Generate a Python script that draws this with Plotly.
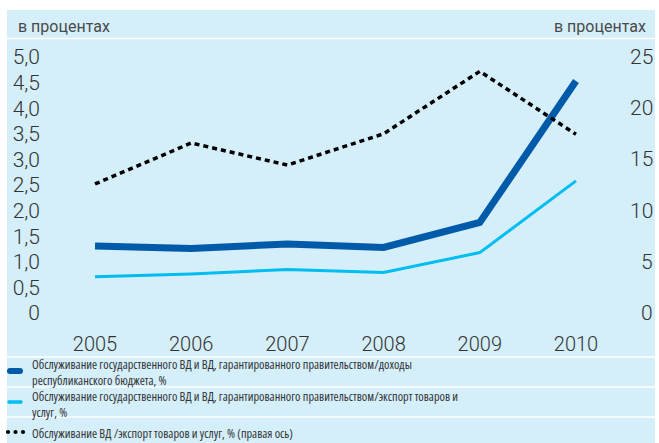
import plotly.graph_objects as go

# Data
years = [2005, 2006, 2007, 2008, 2009, 2010]
service_to_budget = [1.31, 1.26, 1.35, 1.28, 1.77, 4.53]      # left axis, %
service_to_exports = [0.71, 0.76, 0.85, 0.79, 1.18, 2.58]     # left axis, %
ext_debt_to_exports = [12.6, 16.6, 14.45, 17.5, 23.6, 17.45]  # right axis, %

left_ticks = [0, 0.5, 1.0, 1.5, 2.0, 2.5, 3.0, 3.5, 4.0, 4.5, 5.0]
left_labels = ["0", "0,5", "1,0", "1,5", "2,0", "2,5", "3,0", "3,5", "4,0", "4,5", "5,0"]
right_ticks = [0, 5, 10, 15, 20, 25]
right_labels = ["0", "5", "10", "15", "20", "25"]

unit_label = "в процентах"
legend_items = [
    ("Обслуживание государственного ВД и ВД, гарантированного правительством/доходы",
     "республиканского бюджета, %"),
    ("Обслуживание государственного ВД и ВД, гарантированного правительством/экспорт товаров и",
     "услуг, %"),
    ("Обслуживание ВД /экспорт товаров и услуг, % (правая ось)",),
]

DARK_BLUE = "#005aaa"
LIGHT_BLUE = "#00bdf2"
BG = "#d4eefa"
TEXT = "#333333"

W, H = 659, 443
ML, MR, MT, MB = 45, 33, 44, 117
PW, PH = W - ML - MR, H - MT - MB


def px(x):
    return (x - ML) / PW


def py(y):
    return (H - MB - y) / PH


def dot(cx, cy, r, color):
    return dict(type="circle", xref="paper", yref="paper",
                x0=px(cx - r), x1=px(cx + r), y0=py(cy + r), y1=py(cy - r),
                fillcolor=color, line=dict(width=0))


fig = go.Figure()
fig.add_trace(go.Scatter(x=years, y=service_to_budget, mode="lines",
                         line=dict(color=DARK_BLUE, width=7), showlegend=False))
fig.add_trace(go.Scatter(x=years, y=service_to_exports, mode="lines",
                         line=dict(color=LIGHT_BLUE, width=3), showlegend=False))
fig.add_trace(go.Scatter(x=years, y=ext_debt_to_exports, mode="lines", yaxis="y2",
                         line=dict(color="black", width=3.5, dash="5px,4px"),
                         showlegend=False))

shapes = [
    # panel background
    dict(type="rect", xref="paper", yref="paper", x0=px(7), x1=px(655), y0=py(10), y1=py(443),
         fillcolor=BG, line=dict(width=0), layer="below"),
]
# white separator lines
for sy in [38.5, 357, 387, 417]:
    shapes.append(dict(type="line", xref="paper", yref="paper", x0=px(7), x1=px(655),
                       y0=py(sy), y1=py(sy), line=dict(color="white", width=1.5), layer="below"))

# legend keys (rounded ends made from small discs)
shapes.append(dict(type="line", xref="paper", yref="paper", x0=px(10), x1=px(20),
                   y0=py(371), y1=py(371), line=dict(color=DARK_BLUE, width=6)))
shapes += [dot(10, 371, 3, DARK_BLUE), dot(20, 371, 3, DARK_BLUE)]
shapes.append(dict(type="line", xref="paper", yref="paper", x0=px(9), x1=px(21),
                   y0=py(402), y1=py(402), line=dict(color=LIGHT_BLUE, width=3.5)))
shapes += [dot(9, 402, 1.75, LIGHT_BLUE), dot(21, 402, 1.75, LIGHT_BLUE)]
for dx in [8, 15.5, 23]:
    shapes.append(dot(dx, 432, 2.1, "black"))

annotations = [
    dict(text=unit_label, xref="paper", yref="paper", x=px(16), y=py(26), xanchor="left",
         yanchor="middle", showarrow=False, font=dict(family="Roboto", size=16, color="#4a4a4a")),
    dict(text=unit_label, xref="paper", yref="paper", x=px(648), y=py(26), xanchor="right",
         yanchor="middle", showarrow=False, font=dict(family="Roboto", size=16, color="#4a4a4a")),
]
# right-axis labels, right-aligned
for v, t in zip(right_ticks, right_labels):
    annotations.append(dict(text=t, xref="paper", yref="y2", x=px(655), y=v, xanchor="right",
                            yanchor="middle", showarrow=False,
                            font=dict(family="Roboto", size=21, color=TEXT, weight=300)))

# legend text in a condensed cut
legend_centres = [372, 404.5, 433]
for lines, cy in zip(legend_items, legend_centres):
    text = "<br>".join(f'<span style="font-stretch:80%">{ln}</span>' for ln in lines)
    annotations.append(dict(text=text, xref="paper", yref="paper", x=px(31), y=py(cy),
                            xanchor="left", yanchor="middle", align="left", showarrow=False,
                            borderpad=0,
                            font=dict(family="Open Sans", size=12.3, color=TEXT)))

fig.update_layout(
    width=W, height=H,
    margin=dict(l=ML, r=MR, t=MT, b=MB, pad=0),
    paper_bgcolor="white",
    plot_bgcolor="rgba(0,0,0,0)",
    shapes=shapes,
    annotations=annotations,
    xaxis=dict(range=[2004.48, 2010.52], tickvals=years, ticktext=[str(y) for y in years],
               showgrid=False, zeroline=False, showline=False, ticks="",
               ticklabelstandoff=4,
               tickfont=dict(family="Roboto", size=20, color=TEXT, weight=300)),
    yaxis=dict(range=[-13 / 51.2, 5 + 13 / 51.2], tickvals=left_ticks, ticktext=left_labels,
               showgrid=False, zeroline=False, showline=False, ticks="",
               ticklabelstandoff=4,
               tickfont=dict(family="Roboto", size=21, color=TEXT, weight=300)),
    yaxis2=dict(range=[-5 * 13 / 51.2, 25 + 5 * 13 / 51.2], overlaying="y", side="right",
                showgrid=False, zeroline=False, showline=False, showticklabels=False),
)

fig.write_html("out.html")
